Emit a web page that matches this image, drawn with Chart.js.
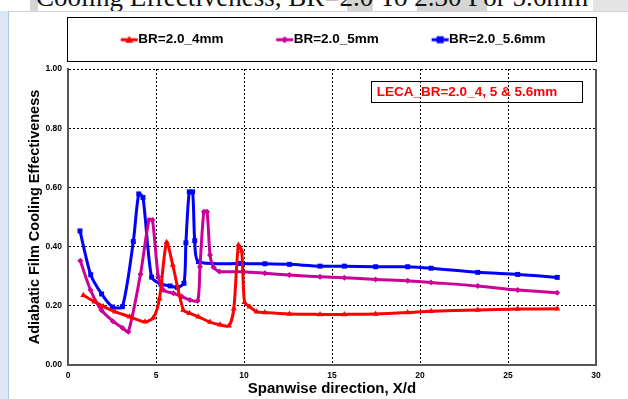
<!DOCTYPE html>
<html>
<head>
<meta charset="utf-8">
<script src="https://cdn.jsdelivr.net/npm/chart.js@4.4.1/dist/chart.umd.min.js"></script>
<style>
  html, body { margin: 0; padding: 0; background: #ffffff; }
  body { width: 628px; height: 399px; position: relative; overflow: hidden; }
  .shade { position: absolute; top: 0; height: 11px; background: #d4d4d4; }
  #slideTitle {
    position: absolute; left: 36px; top: -18px;
    font: 27px "Liberation Serif", "DejaVu Serif", serif;
    color: #111; white-space: nowrap;
  }
  #leftBar {
    position: absolute; left: 0; top: 11px; bottom: 0; width: 8px;
    background: #dde7f3; border-right: 1px solid #b3c5db;
  }
  #topLine {
    position: absolute; left: 9px; right: 0; top: 11px; height: 0;
    border-top: 1px solid #c9d5e4;
  }
  #chart { position: absolute; left: 0; top: 0; }
</style>
</head>
<body>
<div class="shade" style="left:30px;width:8px;"></div>
<div class="shade" style="left:347px;width:26px;"></div>
<div class="shade" style="left:417px;width:70px;"></div>
<div class="shade" style="left:593px;width:35px;background:#e4e4e4;"></div>
<div id="slideTitle">Cooling Effectiveness, BR=2.0 To 2.30 For 5.6mm</div>
<div id="leftBar"></div>
<div id="topLine"></div>
<canvas id="chart" width="628" height="399"></canvas>
<script>
// Spanwise position X/d and effectiveness for each hole size
const x4mm = [0.87, 1.5, 2.0, 2.67, 3.5, 4.38, 4.85, 5.2, 5.6, 5.95, 6.55, 6.9, 7.4, 8.07, 8.64, 9.15, 9.42, 9.68, 9.87, 10.03, 10.32, 10.72, 11.19, 12.58, 14.32, 15.7, 17.48, 19.3, 20.63, 23.28, 25.55, 27.8];
const y4mm = [0.236, 0.214, 0.198, 0.18, 0.163, 0.146, 0.16, 0.225, 0.415, 0.338, 0.186, 0.175, 0.163, 0.145, 0.136, 0.133, 0.19, 0.405, 0.385, 0.212, 0.197, 0.18, 0.177, 0.172, 0.171, 0.171, 0.172, 0.177, 0.182, 0.186, 0.189, 0.19];

const x5mm = [0.7, 1.28, 1.9, 2.55, 3.1, 3.43, 4.12, 4.6, 4.8, 5.13, 5.42, 5.99, 6.46, 6.93, 7.37, 7.5, 7.72, 7.9, 8.07, 8.27, 8.6, 9.96, 11.19, 12.58, 14.32, 15.7, 17.48, 19.3, 20.63, 23.28, 25.55, 27.8];
const y5mm = [0.352, 0.253, 0.185, 0.148, 0.125, 0.112, 0.307, 0.49, 0.49, 0.298, 0.253, 0.242, 0.231, 0.22, 0.217, 0.332, 0.518, 0.518, 0.372, 0.33, 0.316, 0.315, 0.31, 0.304, 0.298, 0.295, 0.289, 0.285, 0.279, 0.267, 0.253, 0.244];

const x56mm = [0.68, 1.29, 1.91, 2.53, 3.09, 3.71, 4.02, 4.26, 4.75, 5.28, 5.8, 6.21, 6.59, 6.7, 6.89, 7.08, 7.2, 7.41, 9.8, 11.19, 12.58, 14.32, 15.7, 17.48, 19.3, 20.63, 23.28, 25.55, 27.8];
const y56mm = [0.453, 0.305, 0.24, 0.196, 0.197, 0.417, 0.578, 0.566, 0.297, 0.273, 0.267, 0.262, 0.276, 0.413, 0.585, 0.585, 0.42, 0.349, 0.343, 0.342, 0.34, 0.334, 0.334, 0.332, 0.332, 0.327, 0.313, 0.306, 0.296];

const seriesNames = ["BR=2.0_4mm", "BR=2.0_5mm", "BR=2.0_5.6mm"];
const seriesColors = ["#ff0000", "#cc0099", "#0000ff"];
const seriesMarkers = ["triangle", "rectRot", "rect"];
const noteText = "LECA_BR=2.0_4, 5 & 5.6mm";

function toPoints(xs, ys) {
    return xs.map(function(x, i) {
        return { x: x, y: ys[i] };
    });
}

// little line-plus-marker picture used as the legend symbol
function legendSymbol(color, marker) {
    const c = document.createElement("canvas");
    c.width = 64;
    c.height = 14;
    const g = c.getContext("2d");
    g.strokeStyle = color;
    g.fillStyle = color;
    g.lineWidth = 3;
    g.beginPath();
    g.moveTo(46, 7);
    g.lineTo(63, 7);
    g.stroke();
    g.beginPath();
    if (marker === "triangle") {
        g.moveTo(54.5, 3);
        g.lineTo(58.5, 10);
        g.lineTo(50.5, 10);
    } else if (marker === "rectRot") {
        g.moveTo(54.5, 3.5);
        g.lineTo(58, 7);
        g.lineTo(54.5, 10.5);
        g.lineTo(51, 7);
    } else {
        g.rect(51, 3.5, 7, 7);
    }
    g.closePath();
    g.fill();
    return c;
}

const symbols = seriesColors.map(function(col, i) {
    return legendSymbol(col, seriesMarkers[i]);
});

const allX = [x4mm, x5mm, x56mm];
const allY = [y4mm, y5mm, y56mm];

const datasets = seriesNames.map(function(name, i) {
    return {
        label: name,
        data: toPoints(allX[i], allY[i]),
        borderColor: seriesColors[i],
        backgroundColor: seriesColors[i],
        borderWidth: 3,
        tension: 0.25,
        pointStyle: seriesMarkers[i],
        pointRadius: i === 1 ? 3 : 3.5,
        pointBorderWidth: 0,
        pointBackgroundColor: seriesColors[i]
    };
});

// make room under the legend
const legendGap = {
    id: "legendGap",
    beforeInit(chart) {
        const fit = chart.legend.fit;
        chart.legend.fit = function() {
            fit.call(this);
            this.height += 12.5;
        };
    }
};

const decor = {
    id: "decor",
    afterDraw(chart) {
        const ctx = chart.ctx;
        const area = chart.chartArea;
        const lg = chart.legend;
        const xs = chart.scales.x;
        const ys = chart.scales.y;

        ctx.save();
        // legend frame
        ctx.strokeStyle = "#000";
        ctx.lineWidth = 1;
        ctx.strokeRect(area.left - 0.5, lg.top - 1.5, area.right - area.left + 1, 44);

        // right edge of plot
        ctx.strokeStyle = "#555";
        ctx.lineWidth = 2;
        ctx.beginPath();
        ctx.moveTo(area.right, area.top);
        ctx.lineTo(area.right, area.bottom + 1);
        ctx.stroke();

        // note box
        const bx = xs.getPixelForValue(17.2);
        const bx2 = xs.getPixelForValue(29.2);
        const by = ys.getPixelForValue(0.96);
        const by2 = ys.getPixelForValue(0.89);
        ctx.strokeStyle = "#000";
        ctx.lineWidth = 1;
        ctx.strokeRect(Math.round(bx) + 0.5, Math.round(by) + 0.5, Math.round(bx2 - bx), Math.round(by2 - by));
        ctx.fillStyle = "#ff0000";
        ctx.font = "bold 13.5px 'Liberation Sans', Arial, sans-serif";
        ctx.textBaseline = "middle";
        ctx.fillText(noteText, bx + 6, (by + by2) / 2 + 1);
        ctx.restore();
    }
};

Chart.defaults.font.family = "'Liberation Sans', Arial, sans-serif";
Chart.defaults.color = "#000";

new Chart(
    document.getElementById("chart"),
    {
        type: "line",
        data: { datasets: datasets },
        options: {
            responsive: false,
            animation: false,
            layout: {
                padding: { top: 19, left: 10, right: 32, bottom: 0 }
            },
            plugins: {
                tooltip: { enabled: false },
                legend: {
                    position: "top",
                    align: "start",
                    fullSize: false,
                    labels: {
                        usePointStyle: true,
                        pointStyleWidth: 49.5,
                        padding: 14,
                        color: "#000",
                        font: { size: 13.5, weight: "bold" },
                        generateLabels(chart) {
                            const items = Chart.defaults.plugins.legend.labels.generateLabels(chart);
                            items.forEach(function(item, i) {
                                item.pointStyle = symbols[i];
                            });
                            return items;
                        }
                    }
                }
            },
            scales: {
                x: {
                    type: "linear",
                    min: 0,
                    max: 30,
                    afterFit(s) { s.height = 34; },
                    ticks: {
                        stepSize: 5,
                        padding: 6,
                        font: { size: 8.5, weight: "bold" }
                    },
                    grid: { color: "#000", lineWidth: 1, drawTicks: false },
                    border: { color: "#555", width: 2, dash: [2, 2] },
                    title: {
                        display: true,
                        text: "Spanwise direction, X/d",
                        font: { size: 15, weight: "bold" },
                        padding: { top: 0, bottom: 1 }
                    }
                },
                y: {
                    min: 0,
                    max: 1,
                    afterFit(s) { s.width = 58; },
                    ticks: {
                        stepSize: 0.2,
                        padding: 6,
                        font: { size: 8.5, weight: "bold" },
                        callback: function(v) { return v.toFixed(2); }
                    },
                    grid: { color: "#000", lineWidth: 1, drawTicks: false },
                    border: { color: "#555", width: 2, dash: [2, 2] },
                    title: {
                        display: true,
                        text: "Adiabatic Film Cooling Effectiveness",
                        font: { size: 14.5, weight: "bold" },
                        padding: { top: 16.3, bottom: 0 }
                    }
                }
            }
        },
        plugins: [legendGap, decor]
    }
);
</script>
</body>
</html>
